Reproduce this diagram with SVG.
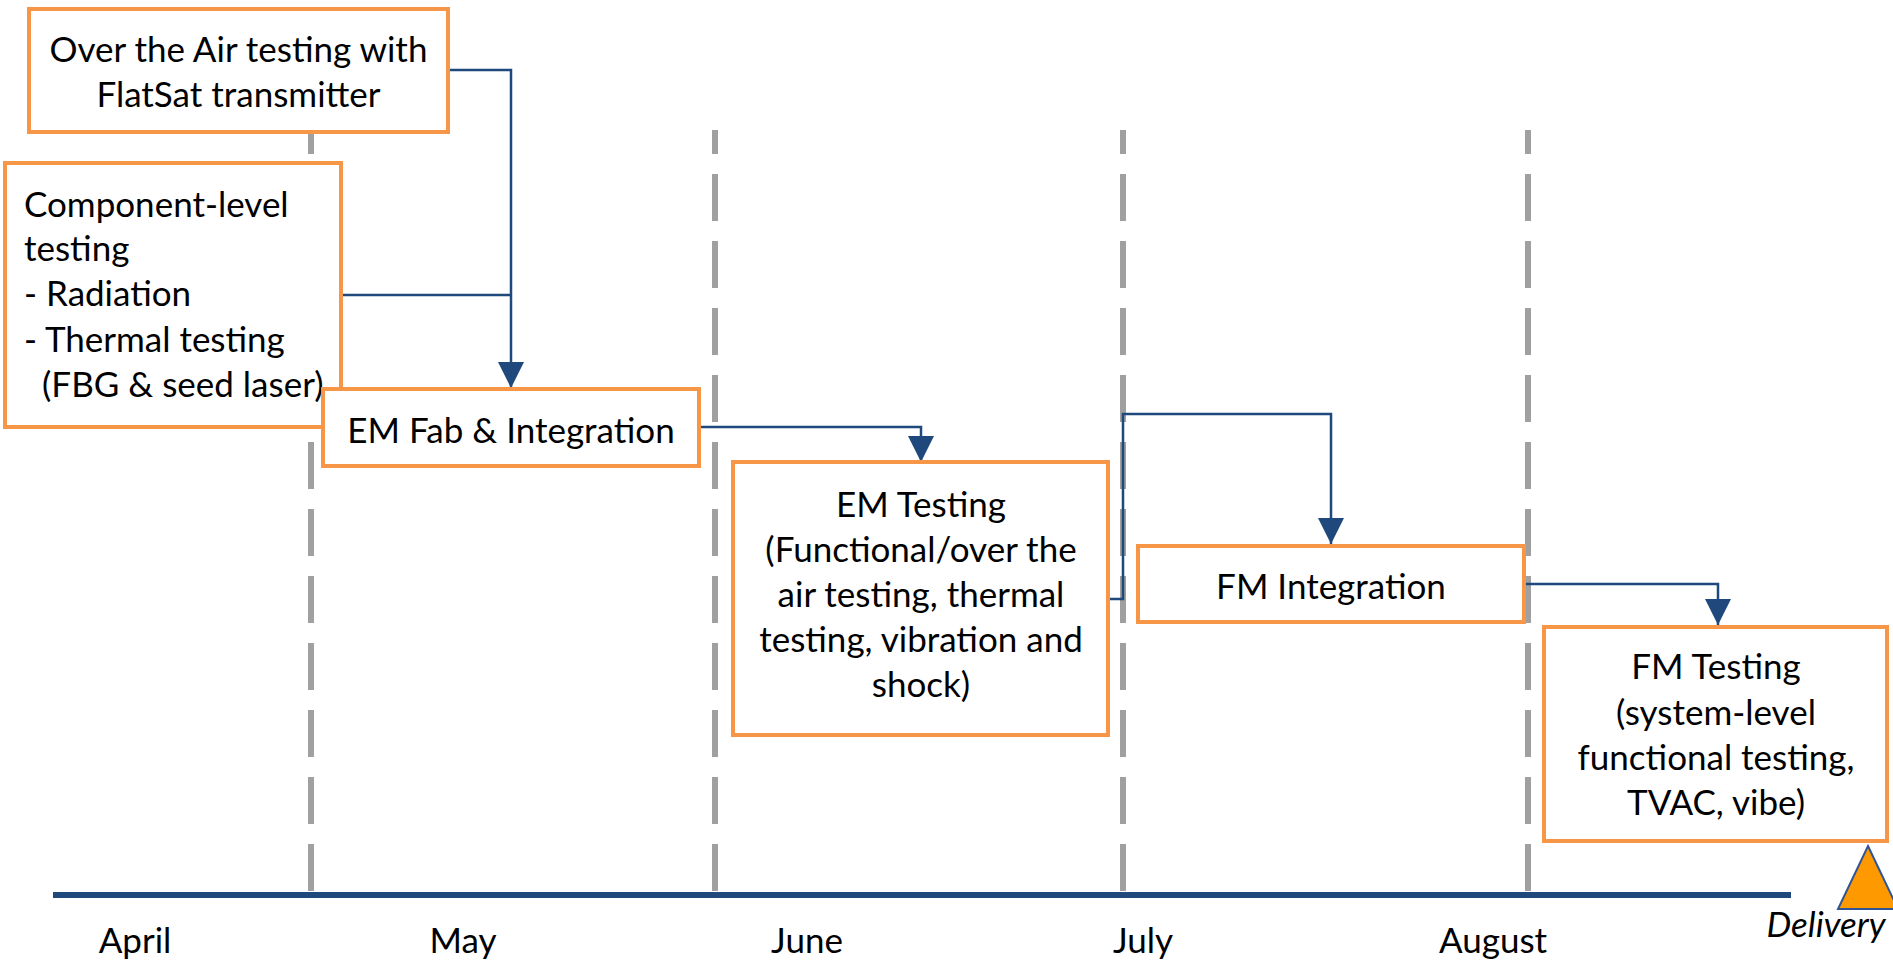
<svg xmlns="http://www.w3.org/2000/svg" width="1893" height="962" viewBox="0 0 1893 962">
<style>
.box{fill:#fff;stroke:#F79646;stroke-width:4}
.t{font-family:Lato,"Open Sans",sans-serif;font-size:35px;fill:#000}
.c{text-anchor:middle}
.dash{stroke:#A0A0A0;stroke-width:6;stroke-dasharray:47 20;stroke-dashoffset:23;fill:none}
.con{stroke:#1F497D;stroke-width:2.5;fill:none}
</style>
<defs>
<marker id="arr" viewBox="0 0 26 26" refX="26" refY="13" markerWidth="26" markerHeight="26" markerUnits="userSpaceOnUse" orient="auto">
<path d="M0,0 L26,13 L0,26 Z" fill="#1F497D"/>
</marker>
</defs>
<g id="gridlines">
<line class="dash" x1="311" y1="130" x2="311" y2="892"/>
<line class="dash" x1="715" y1="130" x2="715" y2="892"/>
<line class="dash" x1="1123" y1="130" x2="1123" y2="892"/>
<line class="dash" x1="1528" y1="130" x2="1528" y2="892"/>
</g>
<g id="timeline">
<rect x="53" y="892" width="1738" height="6" fill="#1F497D"/>
<text class="t c" x="135" y="953">April</text>
<text class="t c" x="463" y="953">May</text>
<text class="t c" x="807" y="953">June</text>
<text class="t c" x="1143" y="953">July</text>
<text class="t c" x="1493" y="953">August</text>
</g>
<g id="delivery">
<path d="M1868,846 L1898,909 L1838,909 Z" fill="#FF9900" stroke="#2F5597" stroke-width="2"/>
<text class="t c" x="1826" y="937" font-style="italic">Delivery</text>
</g>
<g id="connectors">
<path class="con" d="M448,70 H511 V388" marker-end="url(#arr)"/>
<path class="con" d="M341,295 H511"/>
<path class="con" d="M699,427 H921 V462" marker-end="url(#arr)"/>
<path class="con" d="M1108,599 H1123 V414 H1331 V544" marker-end="url(#arr)"/>
<path class="con" d="M1524,584 H1718 V625" marker-end="url(#arr)"/>
</g>
<g id="ota">
<rect class="box" x="29" y="9" width="419" height="123"/>
<text class="t c" x="238.5" y="62">Over the Air testing with</text>
<text class="t c" x="238.5" y="107">FlatSat transmitter</text>
</g>
<g id="component">
<rect class="box" x="5" y="163" width="336" height="264"/>
<text class="t" x="24" y="217">Component-level</text>
<text class="t" x="24" y="261">testing</text>
<text class="t" x="24" y="306">- Radiation</text>
<text class="t" x="24" y="352">- Thermal testing</text>
<text class="t" x="42" y="397">(FBG &amp; seed laser)</text>
</g>
<g id="emfab">
<rect class="box" x="323" y="389" width="376" height="77"/>
<text class="t c" x="511" y="443">EM Fab &amp; Integration</text>
</g>
<g id="emtest">
<rect class="box" x="733" y="462" width="375" height="273"/>
<text class="t c" x="921" y="517">EM Testing</text>
<text class="t c" x="921" y="562">(Functional/over the</text>
<text class="t c" x="921" y="607">air testing, thermal</text>
<text class="t c" x="921" y="652">testing, vibration and</text>
<text class="t c" x="921" y="697">shock)</text>
</g>
<g id="fmint">
<rect class="box" x="1138" y="546" width="386" height="76"/>
<text class="t c" x="1331" y="599">FM Integration</text>
</g>
<g id="fmtest">
<rect class="box" x="1544" y="627" width="343" height="214"/>
<text class="t c" x="1716" y="679">FM Testing</text>
<text class="t c" x="1716" y="725">(system-level</text>
<text class="t c" x="1716" y="770">functional testing,</text>
<text class="t c" x="1716" y="815">TVAC, vibe)</text>
</g>
</svg>
